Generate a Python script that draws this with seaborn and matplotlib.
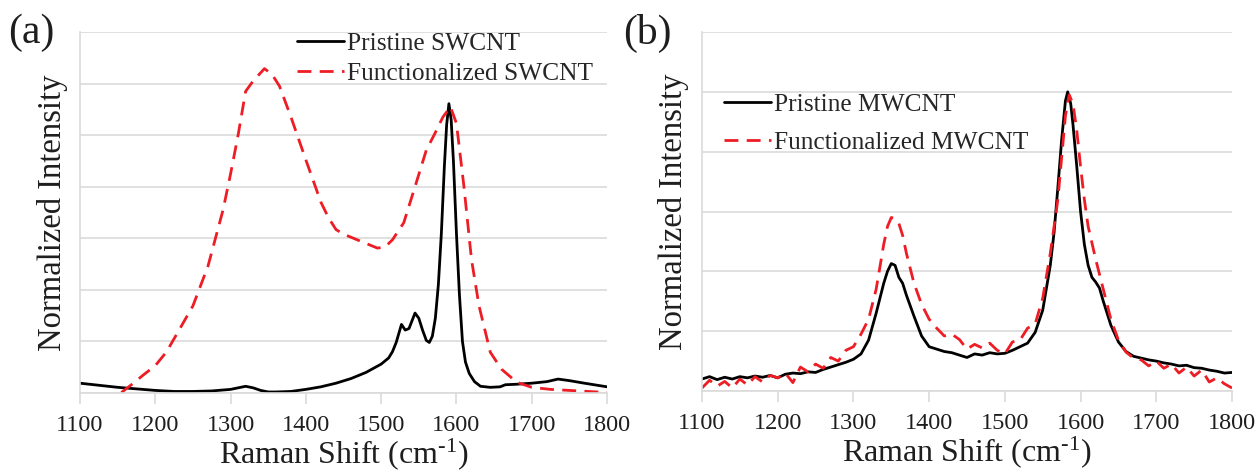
import numpy as np
import pandas as pd
import matplotlib
matplotlib.use("Agg")
import matplotlib.pyplot as plt
import seaborn as sns

# ---------------- data ----------------
# Panel (a) SWCNT
a_pristine_x = [1100, 1125, 1150, 1175, 1200, 1225, 1250, 1275, 1300, 1310, 1320, 1330, 1340, 1350,
                1360, 1380, 1400, 1420, 1440, 1460, 1480, 1490, 1500, 1510, 1515, 1520, 1527,
                1532, 1537, 1545, 1550, 1555, 1560, 1564, 1568, 1572, 1576, 1580, 1584, 1587,
                1590, 1593, 1596, 1600, 1604, 1608, 1612, 1617, 1624, 1632, 1645, 1658, 1665,
                1680, 1700, 1720, 1735, 1750, 1770, 1800]
a_pristine_y = [0.19, 0.15, 0.11, 0.08, 0.05, 0.03, 0.03, 0.04, 0.07, 0.10, 0.13, 0.10, 0.05, 0.02,
                0.02, 0.03, 0.07, 0.12, 0.19, 0.28, 0.40, 0.48, 0.56, 0.68, 0.80, 0.98, 1.33,
                1.22, 1.25, 1.55, 1.45, 1.22, 1.02, 0.98, 1.10, 1.45, 2.10, 3.10, 4.40, 5.20,
                5.61, 5.30, 4.50, 3.10, 1.90, 1.00, 0.60, 0.38, 0.22, 0.13, 0.11, 0.12, 0.16,
                0.17, 0.19, 0.22, 0.27, 0.24, 0.19, 0.12]

a_func_x = [1155, 1170, 1185, 1200, 1215, 1230, 1250, 1270, 1290, 1300, 1310, 1320, 1330, 1345,
            1355, 1365, 1380, 1400, 1420, 1430, 1440, 1450, 1460, 1480, 1495, 1505, 1515,
            1530, 1545, 1560, 1572, 1582, 1592, 1600, 1610, 1620, 1630, 1645, 1660, 1680,
            1700, 1725, 1750, 1775, 1800]
a_func_y = [0.01, 0.18, 0.36, 0.53, 0.80, 1.18, 1.69, 2.46, 3.55, 4.25, 5.00, 5.85, 6.05, 6.29,
            6.18, 5.95, 5.36, 4.52, 3.70, 3.40, 3.17, 3.08, 3.02, 2.90, 2.81, 2.83, 2.97,
            3.30, 4.00, 4.71, 5.05, 5.35, 5.55, 5.23, 4.00, 2.59, 1.69, 0.79, 0.46, 0.21,
            0.11, 0.07, 0.05, 0.03, 0.01]

# Panel (b) MWCNT
b_pristine_x = [1100, 1110, 1120, 1130, 1140, 1150, 1160, 1170, 1180, 1190, 1200, 1210, 1220, 1230,
                1240, 1250, 1260, 1270, 1280, 1290, 1300, 1310, 1320, 1330, 1340, 1345, 1350,
                1355, 1360, 1365, 1370, 1380, 1390, 1400, 1410, 1420, 1430, 1440, 1450, 1460,
                1470, 1480, 1490, 1500, 1510, 1520, 1530, 1540, 1550, 1560, 1565, 1570, 1575,
                1580, 1583, 1587, 1590, 1595, 1600, 1605, 1610, 1615, 1620, 1625, 1630, 1640,
                1650, 1660, 1670, 1680, 1690, 1700, 1710, 1720, 1730, 1740, 1750, 1760, 1770,
                1780, 1790, 1800]
b_pristine_y = [0.20, 0.24, 0.19, 0.23, 0.20, 0.24, 0.22, 0.25, 0.23, 0.26, 0.22, 0.28, 0.30, 0.29,
                0.32, 0.31, 0.36, 0.40, 0.44, 0.48, 0.53, 0.62, 0.85, 1.30, 1.80, 2.00, 2.13,
                2.10, 1.90, 1.80, 1.60, 1.25, 0.92, 0.74, 0.70, 0.66, 0.64, 0.60, 0.56, 0.62,
                0.60, 0.64, 0.62, 0.63, 0.68, 0.74, 0.80, 0.98, 1.35, 2.10, 2.65, 3.40, 4.20,
                4.85, 5.00, 4.80, 4.45, 3.75, 3.00, 2.45, 2.10, 1.90, 1.82, 1.72, 1.50, 1.10,
                0.82, 0.66, 0.58, 0.55, 0.52, 0.50, 0.47, 0.45, 0.42, 0.43, 0.39, 0.38, 0.35,
                0.33, 0.30, 0.31]

b_func_x = [1100, 1110, 1120, 1130, 1140, 1150, 1160, 1170, 1180, 1190, 1200, 1210, 1220, 1230,
            1240, 1250, 1260, 1270, 1280, 1290, 1300, 1310, 1320, 1330, 1340, 1345, 1350,
            1355, 1360, 1365, 1370, 1375, 1380, 1390, 1400, 1410, 1420, 1430, 1440, 1450,
            1460, 1470, 1480, 1490, 1500, 1510, 1520, 1530, 1540, 1550, 1560, 1570, 1575,
            1580, 1585, 1590, 1595, 1600, 1605, 1610, 1620, 1630, 1640, 1650, 1660, 1670,
            1680, 1690, 1700, 1710, 1720, 1730, 1740, 1750, 1760, 1770, 1780, 1790, 1800]
b_func_y = [0.05, 0.18, 0.08, 0.16, 0.05, 0.20, 0.10, 0.24, 0.15, 0.26, 0.22, 0.30, 0.14, 0.40,
            0.32, 0.45, 0.38, 0.56, 0.50, 0.68, 0.74, 0.95, 1.20, 1.70, 2.45, 2.75, 2.90,
            2.88, 2.80, 2.60, 2.30, 2.05, 1.80, 1.45, 1.20, 1.05, 0.92, 0.95, 0.86, 0.70,
            0.78, 0.72, 0.80, 0.68, 0.62, 0.82, 0.85, 1.05, 1.12, 1.55, 2.30, 3.20, 3.90,
            4.60, 4.95, 4.80, 4.35, 3.75, 3.20, 2.75, 2.20, 1.70, 1.20, 0.85, 0.65, 0.55,
            0.52, 0.42, 0.50, 0.38, 0.45, 0.30, 0.40, 0.25, 0.35, 0.15, 0.22, 0.12, 0.05]

x_ticks = [1100, 1200, 1300, 1400, 1500, 1600, 1700, 1800]
labels_a = ["Pristine SWCNT", "Functionalized SWCNT"]
labels_b = ["Pristine MWCNT", "Functionalized MWCNT"]
panel_tags = ["(a)", "(b)"]

# ---------------- style ----------------
sns.set_theme(style="white")
plt.rcParams["font.family"] = ["Liberation Serif", "DejaVu Serif"]
plt.rcParams["mathtext.default"] = "regular"

RED = "#ee1c24"
GRID = "#dadada"
TXT = "#1e1e1e"

fig = plt.figure(figsize=(12.59, 4.72), dpi=100)
ax_a = fig.add_axes([80/1259, 1-393/472, 527/1259, 361/472])
ax_b = fig.add_axes([702/1259, 1-391/472, 530/1259, 359/472])


def style_axis(ax, ymax):
    ax.set_xlim(1100, 1800)
    ax.set_ylim(0, ymax)
    ax.set_xticks(x_ticks)
    ax.set_yticks(np.arange(0, ymax + 0.01, 1))
    ax.tick_params(axis="y", left=False, labelleft=False)
    ax.tick_params(axis="x", bottom=True, direction="out", length=8, width=1.2, color=GRID,
                   labelsize=17.5, pad=8, labelcolor=TXT)
    ax.yaxis.grid(True, color=GRID, linewidth=1.2)
    ax.xaxis.grid(False)
    for s in ["top", "right"]:
        ax.spines[s].set_visible(False)
    for s in ["left", "bottom"]:
        ax.spines[s].set_color(GRID)
        ax.spines[s].set_linewidth(1.2)
    ax.set_xlabel("Raman Shift (cm$^{\u20101}$)", fontsize=23, color=TXT, labelpad=0)
    ax.set_ylabel("Normalized Intensity", fontsize=23.5, color=TXT)


def draw(ax, px, py, fx, fy, labels):
    dp = pd.DataFrame({"x": px, "y": py})
    df = pd.DataFrame({"x": fx, "y": fy})
    sns.lineplot(data=dp, x="x", y="y", ax=ax, color="black", linewidth=2.0,
                 estimator=None, sort=False, label=labels[0])
    sns.lineplot(data=df, x="x", y="y", ax=ax, color=RED, linewidth=2.0,
                 estimator=None, sort=False, label=labels[1])
    ax.lines[-1].set_dashes((5, 3))


draw(ax_a, a_pristine_x, a_pristine_y, a_func_x, a_func_y, labels_a)
draw(ax_b, b_pristine_x, b_pristine_y, b_func_x, b_func_y, labels_b)
style_axis(ax_a, 7)
style_axis(ax_b, 6)
ax_a.yaxis.set_label_coords(-0.023, 0.5)
ax_b.yaxis.set_label_coords(-0.025, 0.5)

ax_a.legend(loc="upper left", bbox_to_anchor=(297/1259, 1-32/472),
            bbox_transform=fig.transFigure, frameon=False, fontsize=18.3,
            handlelength=1.85, handletextpad=0.1, labelspacing=0.28,
            borderpad=0, borderaxespad=0)
ax_b.legend(loc="upper left", bbox_to_anchor=(724/1259, 1-93/472),
            bbox_transform=fig.transFigure, frameon=False, fontsize=18.3,
            handlelength=1.85, handletextpad=0.1, labelspacing=0.6,
            borderpad=0, borderaxespad=0)

fig.text(8/1259, 1-33/472, panel_tags[0], fontsize=30, va="center", ha="left", color=TXT)
fig.text(623/1259, 1-33/472, panel_tags[1], fontsize=30, va="center", ha="left", color=TXT)

fig.savefig("out.png", dpi=100)
